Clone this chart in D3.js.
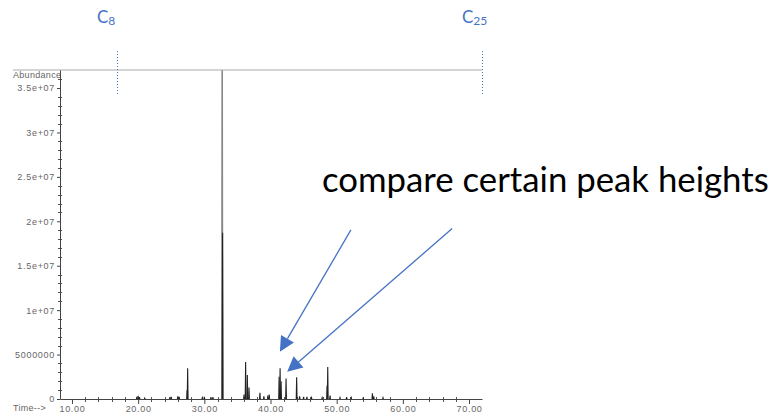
<!DOCTYPE html>
<html>
<head>
<meta charset="utf-8">
<script src="https://cdn.jsdelivr.net/npm/d3@7"></script>
<style>
  body { margin: 0; background: #fff; }
  .tick text { font-family: "Liberation Sans", Arial, sans-serif; font-size: 9px; letter-spacing: 0.7px; fill: #666; }
  .tick line { stroke: #444; }
</style>
</head>
<body>
<div id="chart"></div>
<script>
// Chromatogram peaks (retention time in min, abundance)
var peakTimes = [19.8, 20.0, 20.2, 21.0, 24.8, 25.0, 26.0, 26.2, 27.4, 27.48, 29.7, 30.0, 31.0, 31.3,
  32.70, 32.76, 36.0, 36.24, 36.5, 36.75, 38.4, 39.0, 39.6, 39.8, 41.3, 41.45, 41.6, 42.35,
  43.95, 44.4, 45.0, 45.5, 46.2, 47.8, 48.55, 48.65, 49.0, 50.5, 51.5, 52.2, 54.0, 55.4, 55.6, 57.0];
var peakHeights = [250000, 350000, 200000, 100000, 200000, 250000, 300000, 250000, 1000000, 3450000, 150000, 250000, 200000, 200000,
  37000000, 18700000, 500000, 4150000, 2700000, 1300000, 700000, 300000, 400000, 500000, 2500000, 3450000, 2000000, 2300000,
  2450000, 300000, 250000, 250000, 150000, 150000, 1500000, 3600000, 400000, 150000, 200000, 150000, 100000, 650000, 300000, 150000];

// Axes
var xTickValues = [10, 20, 30, 40, 50, 60, 70];
var xTickLabels = ["10.00", "20.00", "30.00", "40.00", "50.00", "60.00", "70.00"];
var yTickValues = [0, 5e6, 1e7, 1.5e7, 2e7, 2.5e7, 3e7, 3.5e7];
var yTickLabels = ["0", "5000000", "1e+07", "1.5e+07", "2e+07", "2.5e+07", "3e+07", "3.5e+07"];

// Carbon number markers
var markerNames = ["8", "25"];
var markerTimes = [16.85, 71.9];

// Annotation arrows: start and tip in (time, abundance)
var arrowStarts = [[52.15, 1.903e7], [67.45, 1.918e7]];
var arrowTips = [[41.42, 5.33e6], [42.52, 3.07e6]];

var width = 779, height = 418;
var blue = "#4472C4";

var svg = d3.select("#chart").append("svg")
  .attr("width", width)
  .attr("height", height);

var xScale = d3.scaleLinear().domain([8.19, 71.96]).range([60, 482]);
var yScale = d3.scaleLinear().domain([0, 3.703e7]).range([399, 70]);

// top frame line
svg.append("line")
  .attr("x1", 13).attr("x2", 482)
  .attr("y1", 70).attr("y2", 70)
  .attr("stroke", "#aaa").attr("stroke-width", 1);

svg.append("text")
  .attr("x", 13).attr("y", 78)
  .attr("font-family", "Liberation Sans, Arial, sans-serif")
  .attr("font-size", 9)
  .attr("letter-spacing", 0.3)
  .attr("fill", "#666")
  .text("Abundance");

// minor ticks
var yMinor = d3.range(0, 3.7e7, 1e6).filter(function(v) { return v % 5e6 !== 0; });
svg.append("g").selectAll("line").data(yMinor).enter().append("line")
  .attr("x1", 58).attr("x2", 62)
  .attr("y1", function(d) { return Math.round(yScale(d)) + 0.5; })
  .attr("y2", function(d) { return Math.round(yScale(d)) + 0.5; })
  .attr("stroke", "#555");

var xMinor = d3.range(10, 72, 2).filter(function(v) { return v % 10 !== 0; });
svg.append("g").selectAll("line").data(xMinor).enter().append("line")
  .attr("x1", function(d) { return Math.round(xScale(d)) + 0.5; })
  .attr("x2", function(d) { return Math.round(xScale(d)) + 0.5; })
  .attr("y1", 397).attr("y2", 402)
  .attr("stroke", "#555");

var yAxis = d3.axisLeft(yScale)
  .tickValues(yTickValues)
  .tickFormat(function(d, i) { return yTickLabels[i]; })
  .tickSize(3)
  .tickPadding(2)
  .tickSizeOuter(0);

var xAxis = d3.axisBottom(xScale)
  .tickValues(xTickValues)
  .tickFormat(function(d, i) { return xTickLabels[i]; })
  .tickSize(5)
  .tickPadding(2)
  .tickSizeOuter(0);

var gy = svg.append("g")
  .attr("transform", "translate(60,0)")
  .call(yAxis);
gy.select(".domain").attr("stroke", "#444");

var gx = svg.append("g")
  .attr("transform", "translate(0,399)")
  .call(xAxis);
gx.select(".domain").attr("stroke", "#444");

svg.append("text")
  .attr("x", 13).attr("y", 411)
  .attr("font-family", "Liberation Sans, Arial, sans-serif")
  .attr("font-size", 9)
  .attr("letter-spacing", 0.3)
  .attr("fill", "#666")
  .text("Time-->");

// peaks
var peaks = peakTimes.map(function(t, i) { return { t: t, h: peakHeights[i] }; });
var peakLine = d3.line()
  .x(function(p) { return xScale(p[0]); })
  .y(function(p) { return yScale(p[1]); });

svg.append("g").selectAll("path").data(peaks).enter().append("path")
  .attr("d", function(d) { return peakLine([[d.t - 0.06, 0], [d.t, d.h], [d.t + 0.06, 0]]); })
  .attr("fill", "none")
  .attr("stroke", function(d) { return d.h > 3e7 ? "#888" : "#222"; })
  .attr("stroke-width", function(d) { return d.h > 3e7 ? 1.6 : 1.1; });

// carbon markers
markerTimes.forEach(function(t, i) {
  var x = Math.round(xScale(t)) + 0.5;
  svg.append("line")
    .attr("x1", x).attr("x2", x)
    .attr("y1", 51).attr("y2", 96)
    .attr("stroke", blue)
    .attr("stroke-width", 1)
    .attr("stroke-dasharray", "1,2");

  var lbl = svg.append("text")
    .attr("x", x - 20.5)
    .attr("y", 23)
    .attr("font-family", "Lato, sans-serif")
    .attr("font-size", 17)
    .attr("fill", blue);
  lbl.append("tspan").text("C");
  lbl.append("tspan")
    .attr("font-size", 12)
    .attr("dy", 2)
    .text(markerNames[i]);
});

// annotation
var note = svg.append("text")
  .attr("x", 322)
  .attr("y", 192)
  .attr("font-family", "Lato, sans-serif")
  .attr("font-size", 28)
  .attr("fill", "#000")
  .text("compare certain peak heights");
var len = note.node().getComputedTextLength();
note.attr("font-size", 28 * 447 / len);

arrowStarts.forEach(function(s, i) {
  var x1 = xScale(s[0]), y1 = yScale(s[1]);
  var x2 = xScale(arrowTips[i][0]), y2 = yScale(arrowTips[i][1]);
  var dx = x2 - x1, dy = y2 - y1, L = Math.sqrt(dx * dx + dy * dy);
  var ux = dx / L, uy = dy / L;
  var headLen = 15, headW = 7.5;
  var bx = x2 - ux * headLen, by = y2 - uy * headLen;
  svg.append("line")
    .attr("x1", x1).attr("y1", y1)
    .attr("x2", bx).attr("y2", by)
    .attr("stroke", blue)
    .attr("stroke-width", 1.3);
  svg.append("polygon")
    .attr("points", [
      [x2, y2],
      [bx - uy * headW, by + ux * headW],
      [bx + uy * headW, by - ux * headW]
    ].map(function(p) { return p.join(","); }).join(" "))
    .attr("fill", blue);
});
</script>
</body>
</html>
